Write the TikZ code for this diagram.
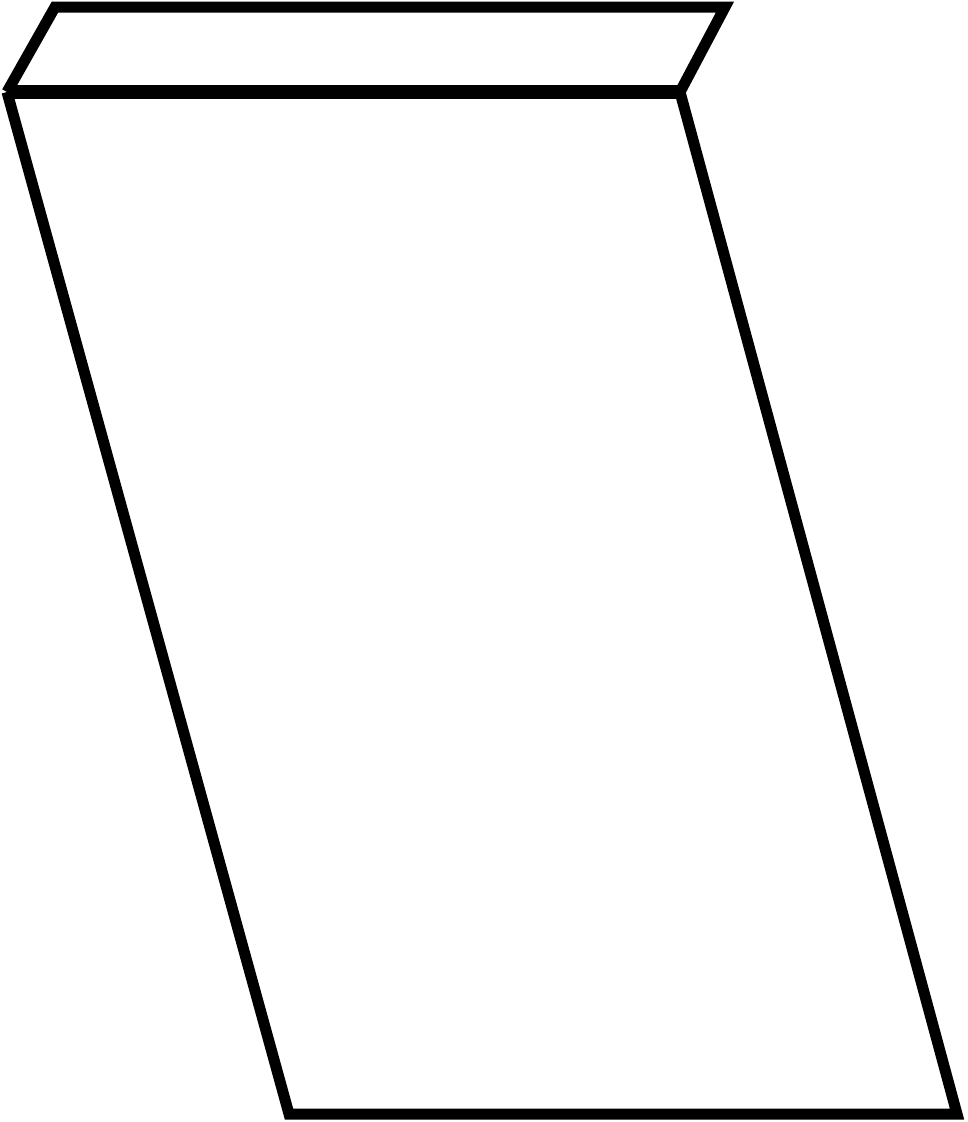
\documentclass[tikz,border=0pt]{standalone}
\usepackage{tikz}
\usepackage{xcolor}
\tikzstyle{outline} = [line width=11pt, line join=miter, color=black]
\tikzstyle{rim} = [line width=14pt, color=black]

\begin{document}
\begin{tikzpicture}[x=1pt, y=-1pt]
\useasboundingbox (0,0) rectangle (967,1122);
% Corners
\coordinate (lidTL) at (55,7);
\coordinate (lidTR) at (725,7);
\coordinate (topL) at (7,92);
\coordinate (topR) at (680,92);
\coordinate (botL) at (289,1114);
\coordinate (botR) at (957,1114);

% Lid
\draw[outline] (topL) -- (lidTL) -- (lidTR) -- (topR);
% Body
\draw[outline] (topL) -- (botL) -- (botR) -- (topR);
% Rim
\draw[rim] (topL) -- (topR);
\end{tikzpicture}
\end{document}
